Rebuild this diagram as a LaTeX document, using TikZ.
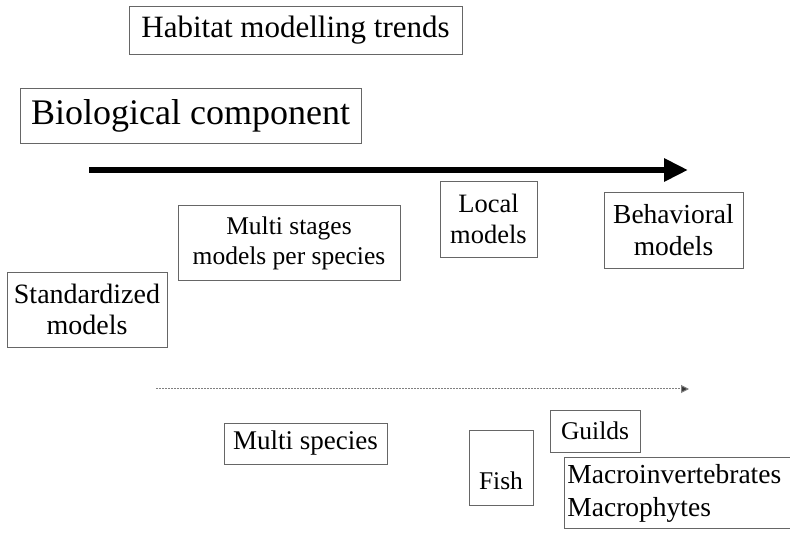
\documentclass[tikz,border=0pt]{standalone}
\usepackage{fontspec}
\setmainfont{Liberation Serif}
\usetikzlibrary{arrows.meta}
\begin{document}
\begin{tikzpicture}[x=1pt,y=-1pt,
  box/.style={draw=black!60,line width=0.9pt,inner sep=0pt,align=center,
              font=\fontsize{25.5}{30}\selectfont},
  bigarrow/.style={line width=6pt,-{Triangle[length=24pt,width=22pt]}},
  thinarrow/.style={draw=black!50,line width=1pt,dash pattern=on 2pt off 1pt,
                    -{Triangle[length=8pt,width=8pt,fill=black!80]}}]
\useasboundingbox (0,0) rectangle (790,534);
\clip (0,0) rectangle (790,534);

% headings
\node[box,minimum width=333pt,minimum height=48pt,font=\fontsize{31}{36}\selectfont]
  (title) at (295.5,30) {Habitat modelling trends};
\node[box,minimum width=341pt,minimum height=55pt,font=\fontsize{36}{40}\selectfont]
  (bio) at (190.5,115.5) {Biological component};

% main trend arrow
\coordinate (mainstart) at (89,170);
\coordinate (mainend) at (688,170);
\draw[bigarrow] (mainstart) -- (mainend);

% model types
\node[box,minimum width=97pt,minimum height=76pt,font=\fontsize{26.5}{31}\selectfont]
  (local) at (488.5,219) {Local\\models};
\node[box,minimum width=139pt,minimum height=76pt,font=\fontsize{27.5}{32.5}\selectfont]
  (behav) at (673.5,230) {Behavioral\\models};
\node[box,minimum width=222pt,minimum height=75pt]
  (stages) at (289,243) {Multi stages\\models per species};
\node[box,minimum width=160pt,minimum height=75pt,font=\fontsize{28}{31}\selectfont]
  (std) at (87,309.5) {Standardized\\models};

% secondary trend arrow
\coordinate (subStart) at (156,389);
\coordinate (subEnd) at (689,389);
\draw[thinarrow] (subStart) -- (subEnd);

% biological groups
\node[box,minimum width=163pt,minimum height=41pt,font=\fontsize{27}{31}\selectfont]
  (species) at (305.5,443.5) {Multi species};
\node[box,minimum width=64pt,minimum height=75pt] (fish) at (501,467.5) {\raisebox{-22pt}[0pt][0pt]{Fish}};
\node[box,minimum width=90pt,minimum height=42pt] (guilds) at (595,431) {Guilds};
\node[box,anchor=north west,minimum height=71pt,text width=260pt,align=left,
      inner xsep=3pt,font=\fontsize{27.5}{33}\selectfont]
  (macro) at (564,457) {Macroinvertebrates\\Macrophytes};
\end{tikzpicture}
\end{document}
